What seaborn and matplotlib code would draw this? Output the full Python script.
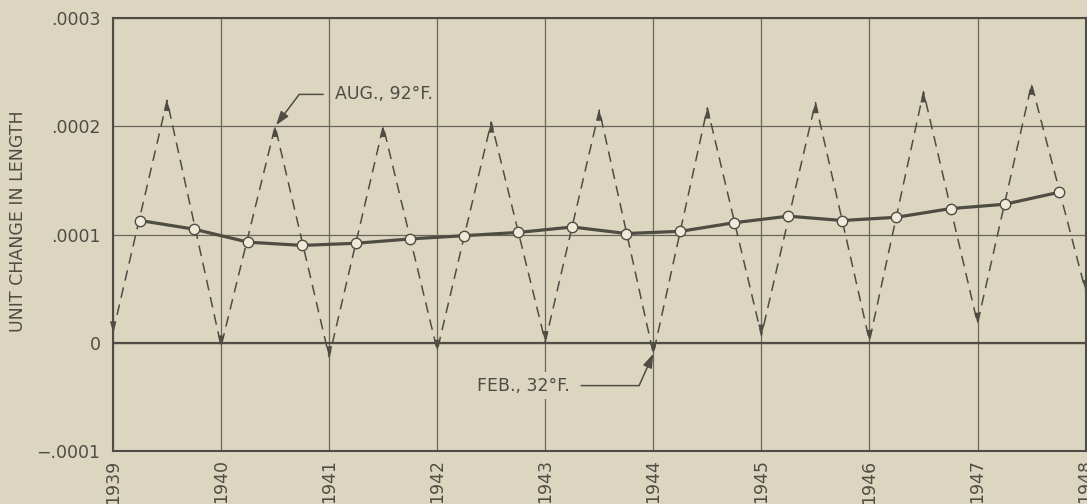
import matplotlib
matplotlib.use("Agg")
import matplotlib.pyplot as plt
import seaborn as sns
import pandas as pd

# ---------------- data ----------------
years = [1939, 1940, 1941, 1942, 1943, 1944, 1945, 1946, 1947, 1948]
x_tick_labels = ["1939", "1940", "1941", "1942", "1943", "1944", "1945", "1946", "1947", "1948"]

# seasonal swing (Feb / Aug readings)
seasonal_x = [1939.0, 1939.5, 1940.0, 1940.5, 1941.0, 1941.5, 1942.0, 1942.5, 1943.0, 1943.5,
              1944.0, 1944.5, 1945.0, 1945.5, 1946.0, 1946.5, 1947.0, 1947.5, 1948.0]
seasonal_y = [0.000010, 0.000224, -0.000003, 0.000200, -0.000013, 0.000200, -0.000007, 0.000204,
              0.000001, 0.000215, -0.000010, 0.000217, 0.000007, 0.000222, 0.000002, 0.000232,
              0.000018, 0.000239, 0.000048]

# mean trend
mean_x = [1939.25, 1939.75, 1940.25, 1940.75, 1941.25, 1941.75, 1942.25, 1942.75, 1943.25,
          1943.75, 1944.25, 1944.75, 1945.25, 1945.75, 1946.25, 1946.75, 1947.25, 1947.75]
mean_y = [0.000113, 0.000105, 0.000093, 0.000090, 0.000092, 0.000096, 0.000099, 0.000102,
          0.000107, 0.000101, 0.000103, 0.000111, 0.000117, 0.000113, 0.000116, 0.000124,
          0.000128, 0.000139]

y_ticks = [-0.0001, 0.0, 0.0001, 0.0002, 0.0003]
y_tick_labels = ["\u2212.0001", "0", ".0001", ".0002", ".0003"]
y_label = "UNIT CHANGE IN LENGTH"
aug_label = "AUG., 92\u00b0F."
feb_label = "FEB., 32\u00b0F."
aug_index = 3
feb_index = 10

# ---------------- style ----------------
bg = "#dcd6c1"
ink = "#4f4c43"
grid_c = "#6a665b"

sns.set_style("white")
plt.rcParams["font.family"] = ["DejaVu Sans"]

fig = plt.figure(figsize=(10.87, 5.04), dpi=100, facecolor=bg)
ax = fig.add_axes([0.104, 0.105, 0.8947, 0.8591])
ax.set_facecolor(bg)

seasonal_df = pd.DataFrame({"x": seasonal_x, "y": seasonal_y})
mean_df = pd.DataFrame({"x": mean_x, "y": mean_y})

sns.lineplot(data=seasonal_df, x="x", y="y", ax=ax, color=ink, lw=1.1,
             linestyle=(0, (7, 4.5)), errorbar=None, zorder=3)
sns.lineplot(data=mean_df, x="x", y="y", ax=ax, color=ink, lw=2.3, marker="o",
             markersize=7.5, markerfacecolor="#eee9d9", markeredgecolor=ink,
             markeredgewidth=1.0, errorbar=None, zorder=4)

# arrowheads at each vertex of the seasonal line
n = len(seasonal_x)
for i in range(n):
    neighbours = [seasonal_y[j] for j in (i - 1, i + 1) if 0 <= j < n]
    up = seasonal_y[i] > sum(neighbours) / len(neighbours)
    ax.annotate("", xy=(seasonal_x[i], seasonal_y[i]),
                xytext=(0, -12 if up else 12), textcoords="offset points",
                arrowprops=dict(arrowstyle="-|>,head_length=0.55,head_width=0.16",
                                mutation_scale=14, lw=0, color=ink,
                                shrinkA=0, shrinkB=0),
                annotation_clip=False, zorder=5)

# callouts
ax.annotate(aug_label, xy=(seasonal_x[aug_index], seasonal_y[aug_index]),
            xytext=(43, 23), textcoords="offset points", ha="left", va="center",
            fontsize=12.5, color=ink,
            arrowprops=dict(arrowstyle="-|>,head_length=0.6,head_width=0.2",
                            mutation_scale=14, lw=1.1, color=ink,
                            connectionstyle="angle,angleA=0,angleB=53,rad=0",
                            shrinkA=6, shrinkB=1))
ax.annotate(feb_label, xy=(seasonal_x[feb_index], seasonal_y[feb_index]),
            xytext=(-127, -23), textcoords="offset points", ha="left", va="center",
            fontsize=12.5, color=ink,
            bbox=dict(boxstyle="square,pad=0.25", fc=bg, ec="none"),
            arrowprops=dict(arrowstyle="-|>,head_length=0.6,head_width=0.2",
                            mutation_scale=14, lw=1.1, color=ink,
                            connectionstyle="angle,angleA=0,angleB=66,rad=0",
                            shrinkA=5, shrinkB=0))

# axes
ax.set_xlim(years[0], years[-1])
ax.set_ylim(y_ticks[0], y_ticks[-1])
ax.set_xticks(years)
ax.set_xticklabels(x_tick_labels, rotation=90, fontsize=12.5, color=ink)
ax.set_yticks(y_ticks)
ax.set_yticklabels(y_tick_labels, fontsize=12.5, color=ink)
ax.tick_params(axis="both", length=0)
ax.tick_params(axis="y", pad=9)
ax.tick_params(axis="x", pad=6)
ax.grid(True, color=grid_c, lw=0.9)
ax.axhline(y_ticks[1], color=ink, lw=1.6, zorder=2)
for s in ax.spines.values():
    s.set_visible(True)
    s.set_color(ink)
    s.set_linewidth(1.5)

ax.set_xlabel("")
ax.set_ylabel(y_label, fontsize=12.5, color=ink)
ax.yaxis.set_label_coords(-0.088, 0.53)

fig.savefig("out.png", dpi=100, facecolor=bg)
